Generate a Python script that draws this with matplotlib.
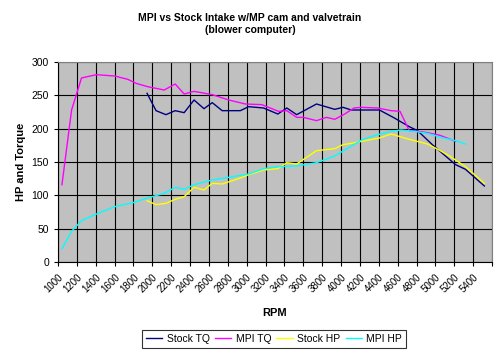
import matplotlib
matplotlib.use('Agg')
import matplotlib.pyplot as plt

plt.rcParams['font.family'] = ['Liberation Sans', 'DejaVu Sans']

# RPM / value pairs
stock_rpm = [1944, 2039, 2144, 2242, 2337, 2442, 2547, 2635, 2740, 2933, 3021, 3179, 3330,
             3425, 3530, 3740, 3933, 4021, 4109, 4407, 4565, 4723, 4811, 4968, 5074, 5214,
             5319, 5519]
stock_tq = [253, 227, 221, 227, 224, 243, 230, 239, 227, 227, 233, 231, 222,
            231, 221, 237, 229, 232, 228, 228, 216, 203, 197, 176, 163, 146,
            139, 114]
stock_hp_rpm = [1944, 2039, 2144, 2242, 2337, 2442, 2547, 2635, 2740, 2933, 3021, 3179, 3330,
                3425, 3530, 3740, 3933, 4021, 4109, 4407, 4530, 4723, 4916, 5039, 5161,
                5319, 5519]
stock_hp = [92, 86, 88, 94, 98, 112, 108, 118, 117, 126, 131, 138, 140,
            149, 147, 167, 170, 176, 178, 186, 192, 184, 177, 168, 158,
            143, 118]

mpi_tq_rpm = [1042, 1144, 1249, 1407, 1600, 1740, 1828, 1950, 2126, 2242, 2337, 2442, 2635,
              2810, 2986, 3161, 3337, 3425, 3530, 3600, 3740, 3846, 3933, 4039, 4137, 4214,
              4389, 4530, 4625, 4723, 4775, 4916, 5049, 5214]
mpi_tq = [116, 228, 276, 281, 279, 274, 268, 263, 258, 267, 252, 256, 251,
          243, 237, 236, 226, 227, 217, 217, 212, 217, 214, 222, 231, 232,
          231, 227, 226, 197, 197, 194, 190, 181]
mpi_hp_rpm = [1042, 1144, 1249, 1407, 1600, 1793, 1950, 2126, 2242, 2337, 2442, 2635, 2810,
              3021, 3179, 3337, 3530, 3740, 3933, 4039, 4232, 4389, 4530, 4635, 4775, 4916,
              5056, 5214, 5319]
mpi_hp = [20, 46, 62, 72, 83, 89, 96, 103, 112, 109, 116, 123, 127,
          132, 140, 143, 144, 149, 159, 168, 184, 191, 196, 198, 196, 193,
          187, 182, 177]

tick_rpm = list(range(1000, 5601, 200))
tick_labels = [str(t) for t in range(1000, 5401, 200)] + ['']

fig = plt.figure(figsize=(5, 3.52), dpi=100)
ax = fig.add_axes([58 / 500, 1 - 262 / 352, 434 / 500, 200 / 352])
ax.set_facecolor('#C0C0C0')

ax.plot(stock_rpm, stock_tq, color='#000080', lw=1, label='Stock TQ')
ax.plot(mpi_tq_rpm, mpi_tq, color='#FF00FF', lw=1, label='MPI TQ')
ax.plot(stock_hp_rpm, stock_hp, color='#FFFF00', lw=1, label='Stock HP')
ax.plot(mpi_hp_rpm, mpi_hp, color='#00FFFF', lw=1, label='MPI HP')

ax.set_xlim(1000, 5600)
ax.set_ylim(0, 300)
ax.set_xticks(tick_rpm)
ax.set_xticklabels(tick_labels, rotation=45, ha='right', rotation_mode='anchor', fontsize=7)
ax.set_yticks(range(0, 301, 50))
ax.tick_params(axis='y', labelsize=7.5, length=3)
ax.tick_params(axis='x', length=3, pad=4)
ax.grid(True, color='black', lw=0.8)
ax.set_axisbelow(True)
for s in ax.spines.values():
    s.set_color('#808080')
ax.spines['left'].set_color('black')
ax.spines['bottom'].set_color('black')

ax.set_ylabel('HP and Torque', fontsize=8, fontweight='bold', labelpad=4)
ax.set_xlabel('RPM', fontsize=8, fontweight='bold', labelpad=10)
fig.text(0.5, 1 - 24 / 352, 'MPI vs Stock Intake w/MP cam and valvetrain\n(blower computer)',
         ha='center', va='center', fontsize=7.5, fontweight='bold', linespacing=1.3)

leg = fig.legend(loc='center', bbox_to_anchor=(274 / 500, 1 - 339 / 352), ncol=4,
                 fontsize=7.5, frameon=True, fancybox=False, handlelength=1.6,
                 columnspacing=0.5, handletextpad=0.4, borderpad=0.4, borderaxespad=0)
leg.get_frame().set_edgecolor('black')
leg.get_frame().set_linewidth(0.8)

fig.savefig('out.png', dpi=100)
